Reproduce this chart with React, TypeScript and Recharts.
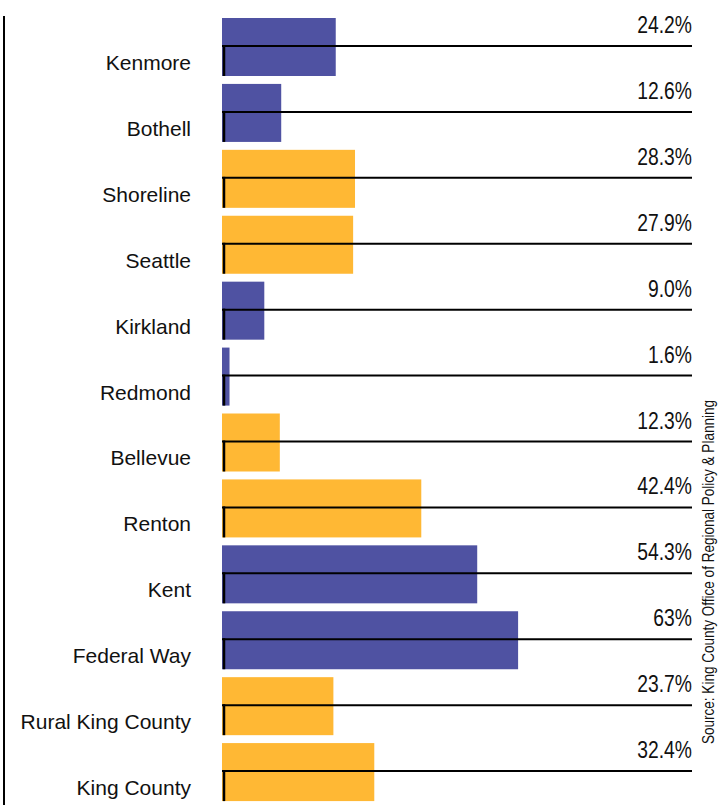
import React from 'react';
import { BarChart, Bar, XAxis, YAxis, Cell } from 'recharts';

const cities = [
  'Kenmore', 'Bothell', 'Shoreline', 'Seattle', 'Kirkland', 'Redmond',
  'Bellevue', 'Renton', 'Kent', 'Federal Way', 'Rural King County', 'King County',
];
const shares = [24.2, 12.6, 28.3, 27.9, 9.0, 1.6, 12.3, 42.4, 54.3, 63, 23.7, 32.4];
const shareLabels = [
  '24.2%', '12.6%', '28.3%', '27.9%', '9.0%', '1.6%',
  '12.3%', '42.4%', '54.3%', '63%', '23.7%', '32.4%',
];
const groups = ['a', 'a', 'b', 'b', 'a', 'a', 'b', 'b', 'a', 'a', 'b', 'b'];

const colors: Record<string, string> = { a: '#4F52A2', b: '#FFB834' };

const data = cities.map((name, i) => ({
  name,
  share: shares[i],
  label: shareLabels[i],
  group: groups[i],
}));

const labelFont = '"Liberation Sans", Arial, sans-serif';
// condensed look: squeeze Liberation Sans horizontally
const squeeze = 0.84;

const RowShape = (props: any) => {
  const { x, y, width, height, fill, background, payload } = props;
  const right = background ? background.x + background.width : 692;
  const lineY = y + height / 2 - 1;
  return (
    <g>
      <rect x={x} y={y} width={width} height={height} fill={fill} />
      <line x1={x} x2={right} y1={lineY} y2={lineY} stroke="#000" strokeWidth={2} />
      <line x1={x + 2} x2={x + 2} y1={lineY - 1} y2={y + height} stroke="#000" strokeWidth={2.5} />
      <text
        transform={`translate(${right} ${lineY - 13}) scale(${squeeze} 1)`}
        textAnchor="end"
        fontFamily={labelFont}
        fontSize={23}
        fill="#111"
      >
        {payload.label}
      </text>
    </g>
  );
};

const CityTick = (props: any) => {
  const { x, y, payload } = props;
  return (
    <text x={x} y={y + 23} textAnchor="end" fontFamily={labelFont} fontSize={21} fill="#111">
      {payload.value}
    </text>
  );
};

export default function App() {
  return (
    <div style={{ position: 'absolute', left: 0, top: 0, width: 719, height: 805, overflow: 'hidden', background: '#fff' }}>
      <div style={{ position: 'absolute', left: 3, top: 16, width: 2, height: 789, background: '#000' }} />
      <BarChart
        width={719}
        height={805}
        data={data}
        layout="vertical"
        margin={{ top: 14, right: 27, bottom: 0, left: 0 }}
        barSize={58}
      >
        <XAxis type="number" domain={[0, 100]} hide />
        <YAxis
          type="category"
          dataKey="name"
          width={222}
          axisLine={false}
          tickLine={false}
          tickSize={0}
          tickMargin={31}
          interval={0}
          tick={<CityTick />}
        />
        <Bar dataKey="share" shape={<RowShape />} isAnimationActive={false}>
          {data.map((d) => (
            <Cell key={d.name} fill={colors[d.group]} />
          ))}
        </Bar>
      </BarChart>
      <svg width={719} height={805} style={{ position: 'absolute', left: 0, top: 0, pointerEvents: 'none' }}>
        <text
          transform={`translate(714 572) rotate(-90) scale(0.82 1)`}
          textAnchor="middle"
          fontFamily={labelFont}
          fontSize={16.5}
          fill="#111"
        >
          Source: King County Office of Regional Policy &amp; Planning
        </text>
      </svg>
    </div>
  );
}
